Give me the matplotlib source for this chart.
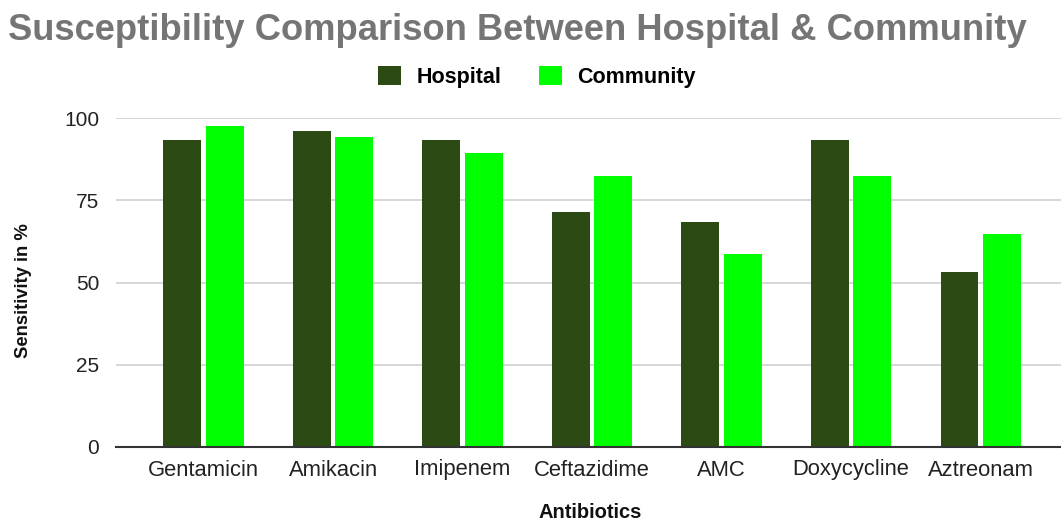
import matplotlib
matplotlib.use("Agg")
import matplotlib.pyplot as plt
import numpy as np

antibiotics = ["Gentamicin", "Amikacin", "Imipenem", "Ceftazidime", "AMC", "Doxycycline", "Aztreonam"]
hospital = [93.3, 96.1, 93.3, 71.5, 68.3, 93.3, 53.3]
community = [97.6, 94.3, 89.3, 82.4, 58.6, 82.4, 64.7]
y_ticks = [0, 25, 50, 75, 100]

plt.rcParams["font.family"] = ["Liberation Sans", "DejaVu Sans"]

HOSP_COLOR = "#2b4a14"
COMM_COLOR = "#00ff00"

fig = plt.figure(figsize=(10.61, 5.24), dpi=100)
ax = fig.add_axes([116 / 1061, 77 / 524, 945 / 1061, 329 / 524])

x = np.arange(len(antibiotics))
w = 0.293
gap = 0.034
ax.bar(x - (w + gap) / 2, hospital, width=w, color=HOSP_COLOR, label="Hospital", zorder=3)
ax.bar(x + (w + gap) / 2, community, width=w, color=COMM_COLOR, label="Community", zorder=3)

ax.set_xlim(-0.676, 6.62)
ax.set_ylim(0, 100)
ax.set_yticks(y_ticks)
ax.set_xticks(x)
ax.set_xticklabels(antibiotics)
ax.tick_params(axis="both", length=0, colors="#222222")
ax.tick_params(axis="x", pad=9, labelsize=15.8)
ax.tick_params(axis="y", pad=12, labelsize=15)

ax.grid(axis="y", color="#d0d0d0", linewidth=1.2, zorder=0)
for s in ["top", "right", "left"]:
    ax.spines[s].set_visible(False)
ax.spines["bottom"].set_color("#333333")
ax.spines["bottom"].set_linewidth(1.5)
ax.spines["bottom"].set_zorder(4)

ax.set_xlabel("Antibiotics", fontsize=14.5, fontweight="bold", color="#111111")
ax.xaxis.set_label_coords(0.502, -56 / 329)
ax.set_ylabel("Sensitivity in %", fontsize=13.3, fontweight="bold", color="#111111")
ax.yaxis.set_label_coords(-84 / 945, 156 / 329)

fig.text(8 / 1061, 1 - 31 / 524, "Susceptibility Comparison Between Hospital & Community",
         fontsize=26.2, fontweight="bold", color="#757575", ha="left", va="center")

fig.legend(loc="center", bbox_to_anchor=(537 / 1061, 1 - 77 / 524), ncol=2, frameon=False,
           prop={"size": 15.5, "weight": "bold"}, handlelength=1.05, handleheight=1.0,
           columnspacing=1.75, handletextpad=0.72)

fig.savefig("out.png", dpi=100, facecolor="white")
